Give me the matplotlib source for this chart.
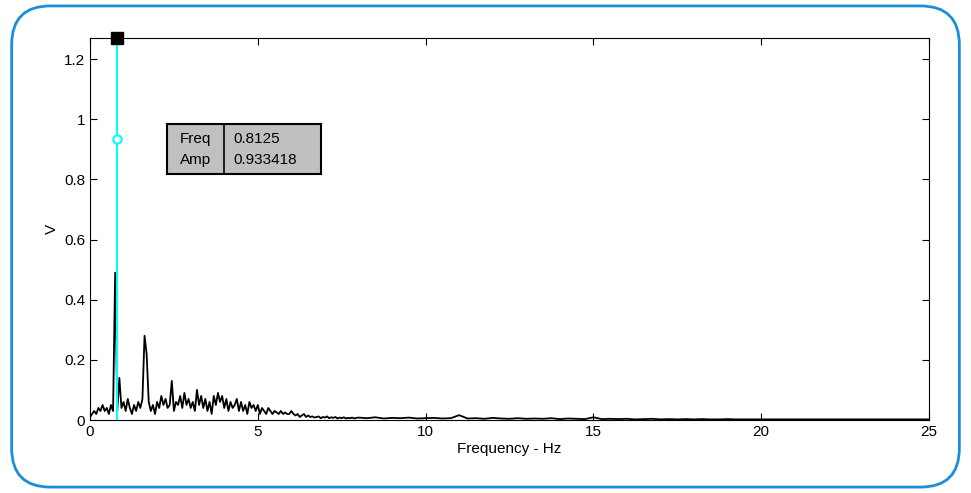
import numpy as np
import matplotlib
matplotlib.use("Agg")
import matplotlib.pyplot as plt
from matplotlib.patches import FancyBboxPatch

plt.rcParams["font.family"] = ["Liberation Sans", "DejaVu Sans"]

# spectrum, 0.0625 Hz bins up to 8 Hz
low_step = 0.0625
low_amp = [
    0.01, 0.02, 0.03, 0.02, 0.04, 0.03, 0.05, 0.03, 0.04, 0.02, 0.05, 0.03,
    0.49, 0.03, 0.14, 0.04, 0.06, 0.03, 0.07, 0.04, 0.02, 0.05, 0.03, 0.06,
    0.04, 0.07, 0.28, 0.22, 0.06, 0.03, 0.05, 0.02, 0.06, 0.04, 0.08, 0.05,
    0.07, 0.04, 0.05, 0.13, 0.03, 0.06, 0.05, 0.08, 0.04, 0.09, 0.05, 0.07,
    0.04, 0.06, 0.03, 0.10, 0.05, 0.08, 0.04, 0.07, 0.03, 0.06, 0.02, 0.08,
    0.05, 0.09, 0.06, 0.08, 0.04, 0.07, 0.03, 0.06, 0.04, 0.05, 0.07, 0.03,
    0.06, 0.03, 0.05, 0.02, 0.06, 0.04, 0.05, 0.03, 0.05, 0.02, 0.04, 0.03,
    0.02, 0.04, 0.03, 0.02, 0.03, 0.025, 0.02, 0.03, 0.02, 0.025, 0.02, 0.02,
    0.03, 0.02, 0.015, 0.02, 0.01, 0.015, 0.02, 0.01, 0.015, 0.01, 0.012, 0.008,
    0.01, 0.012, 0.006, 0.01, 0.008, 0.012, 0.006, 0.009, 0.007, 0.01, 0.005, 0.008,
    0.006, 0.009, 0.005, 0.007, 0.006, 0.008, 0.005, 0.007,
]
# 0.25 Hz bins from 8 to 25 Hz
high_start = 8.0
high_step = 0.25
high_amp = [
    0.008, 0.006, 0.009, 0.005, 0.007, 0.006, 0.008, 0.005, 0.006, 0.007,
    0.005, 0.006, 0.016, 0.005, 0.006, 0.004, 0.007, 0.005, 0.004, 0.006,
    0.004, 0.005, 0.004, 0.006, 0.003, 0.005, 0.004, 0.003, 0.009, 0.003,
    0.004, 0.003, 0.004, 0.002, 0.003, 0.004, 0.002, 0.003, 0.002, 0.003,
    0.002, 0.003, 0.002, 0.002, 0.003, 0.002, 0.002, 0.002, 0.002, 0.002,
    0.002, 0.002, 0.002, 0.002, 0.002, 0.002, 0.002, 0.002, 0.002, 0.002,
    0.002, 0.002, 0.002, 0.002, 0.002, 0.002, 0.002, 0.002, 0.002,
]
cursor_freq = 0.8125
cursor_amp = 0.933418

freq = np.concatenate([
    np.arange(len(low_amp)) * low_step,
    high_start + np.arange(len(high_amp)) * high_step,
])
amp = np.array(low_amp + high_amp)

fig = plt.figure(figsize=(9.71, 4.93), dpi=100)
fig.patches.append(FancyBboxPatch(
    (0.012, 0.012), 0.976, 0.976, boxstyle="round,pad=0,rounding_size=0.04",
    transform=fig.transFigure, fill=False, edgecolor="#1a8fd8", linewidth=2,
    mutation_aspect=971 / 493,
))

ax = fig.add_axes([90 / 971, 73 / 493, 839 / 971, 382 / 493])
ax.plot(freq, amp, color="black", linewidth=1.3)
ax.set_xlim(0, 25)
ax.set_ylim(0, 1.27)
ax.set_xticks([0, 5, 10, 15, 20, 25])
ax.set_yticks([0, 0.2, 0.4, 0.6, 0.8, 1, 1.2])
ax.set_yticklabels(["0", "0.2", "0.4", "0.6", "0.8", "1", "1.2"])
ax.tick_params(direction="in", top=True, right=True, labelsize=11, length=5)
ax.set_xlabel("Frequency - Hz", fontsize=11, labelpad=2)
ax.set_ylabel("V", fontsize=11)

# cursor
ax.axvline(cursor_freq, color="cyan", linewidth=1.5)
ax.plot(cursor_freq, cursor_amp, "o", mfc="white", mec="cyan", ms=6, mew=1.5)
ax.plot(cursor_freq, 1.27, "s", color="black", ms=9, clip_on=False, zorder=5)

# readout box
bx = ax.inset_axes([0.092, 0.645, 0.183, 0.13])
bx.set_facecolor("#c0c0c0")
bx.set_xticks([])
bx.set_yticks([])
for s in bx.spines.values():
    s.set_linewidth(1.5)
bx.axvline(0.37, color="black", linewidth=1.2)
bx.text(0.08, 0.7, "Freq", va="center", fontsize=11)
bx.text(0.08, 0.28, "Amp", va="center", fontsize=11)
bx.text(0.43, 0.7, f"{cursor_freq}", va="center", fontsize=11)
bx.text(0.43, 0.28, f"{cursor_amp}", va="center", fontsize=11)

fig.savefig("out.png", dpi=100)
